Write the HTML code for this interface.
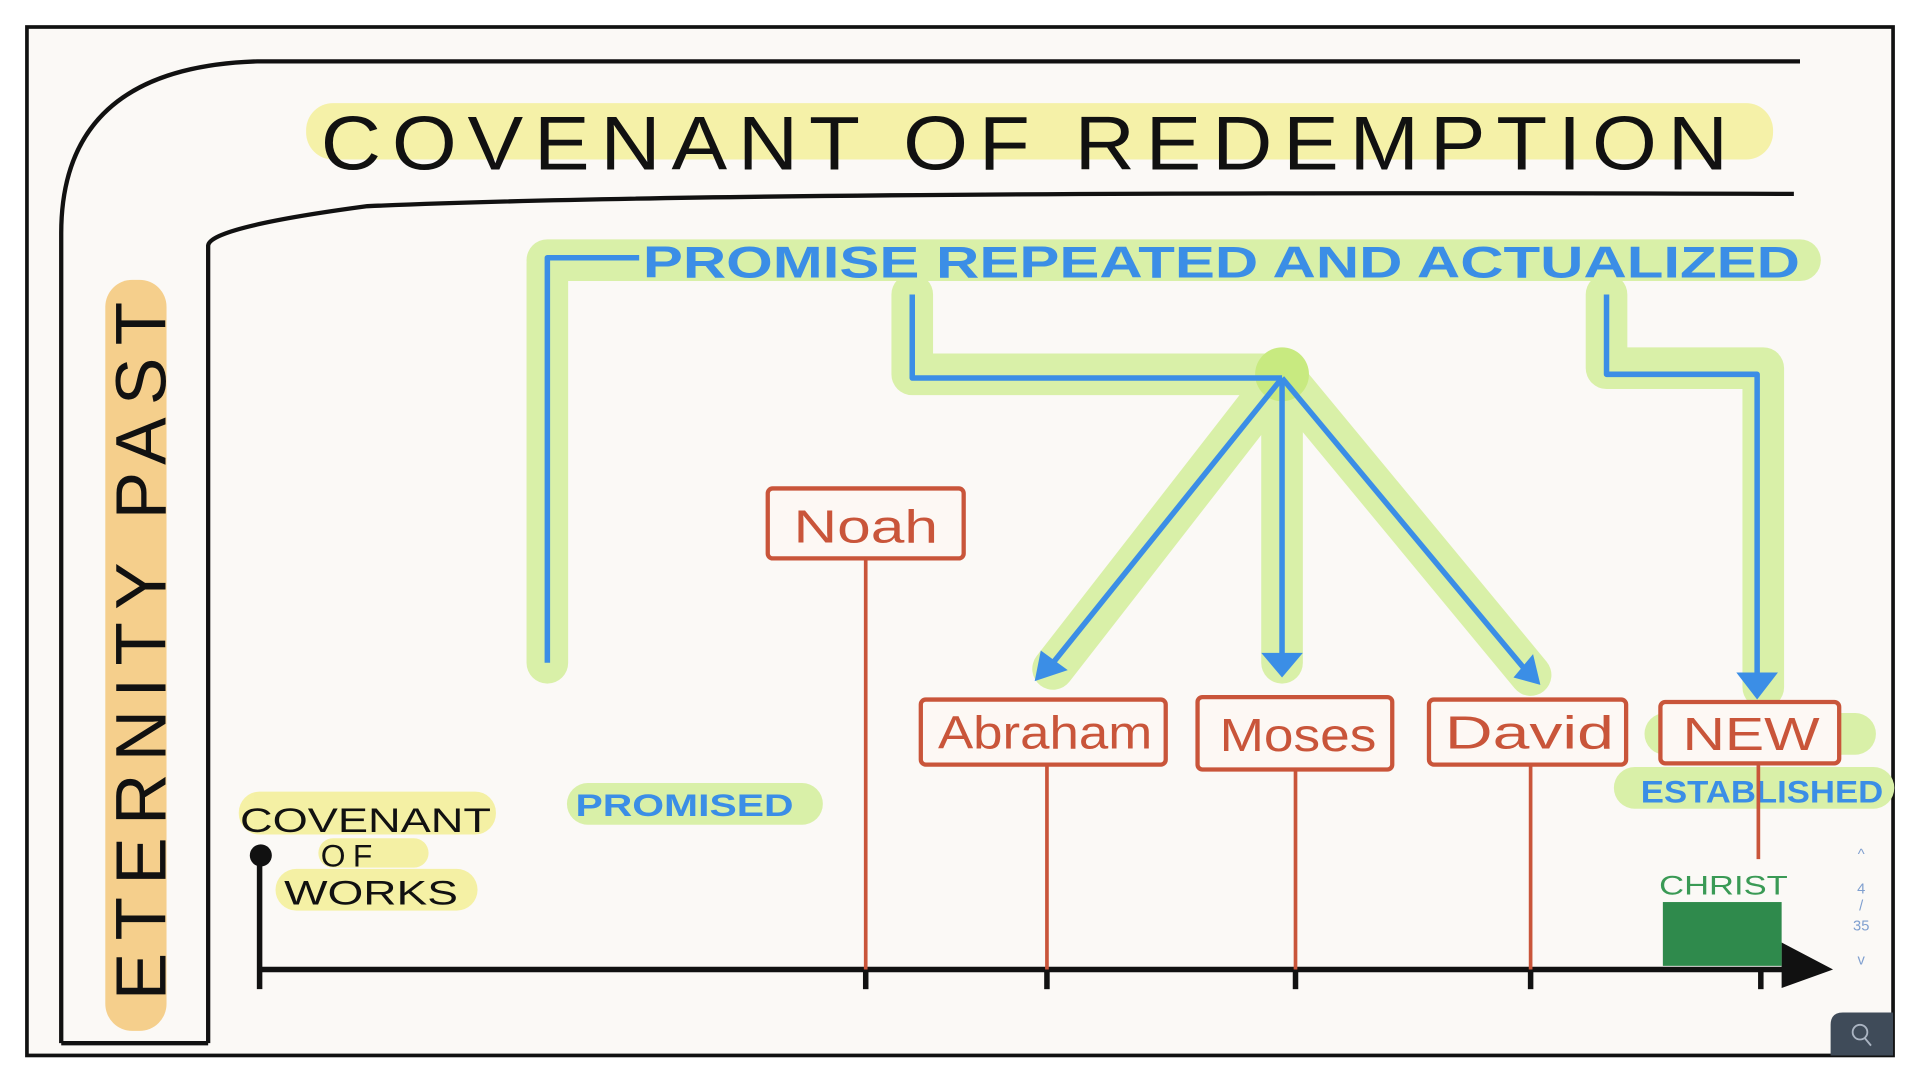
<!DOCTYPE html>
<html><head><meta charset="utf-8"><style>
html,body{margin:0;padding:0;background:#fff;overflow:hidden}
svg{display:block}
text{font-family:"Liberation Sans",sans-serif}
</style></head><body>
<svg width="1920" height="1080" viewBox="0 0 1568 880" preserveAspectRatio="none" xmlns="http://www.w3.org/2000/svg">
<rect x="0" y="0" width="1568" height="880" fill="#fff"/>
<rect x="22" y="22" width="1524" height="838" fill="#fbf9f6" stroke="#111" stroke-width="3"/>
<!-- frame lines -->
<path d="M50 850 L50 190 Q50 55 210 50 L1470 50" fill="none" stroke="#111" stroke-width="3.5"/>
<path d="M170 850 L170 200 Q172 185 300 168 Q600 155 1465 158" fill="none" stroke="#111" stroke-width="3.5"/>
<path d="M50 850 L170 850" stroke="#111" stroke-width="3.5"/>
<!-- eternity past -->
<rect x="86" y="228" width="50" height="612" rx="22" fill="#f3c879" opacity="0.85"/>
<text transform="translate(135,815) rotate(-90)" font-size="58" fill="#111" letter-spacing="10">ETERNITY PAST</text>
<!-- title -->
<rect x="250" y="84" width="1198" height="46" rx="22" fill="#f4f0a0" opacity="0.9"/>
<text x="262" y="138" font-size="62" fill="#111" letter-spacing="8" textLength="1158" lengthAdjust="spacingAndGlyphs">COVENANT OF REDEMPTION</text>
<!-- green highlights -->
<g stroke="#d9f0a8" stroke-linecap="round" stroke-linejoin="round" fill="none" stroke-width="34">
<path d="M447 212 L1470 212"/>
<path d="M447 215 L447 540"/>
<path d="M745 240 L745 305 L1047 305"/>
<path d="M1047 305 L860 545"/>
<path d="M1047 305 L1047 540"/>
<path d="M1047 305 L1250 550"/>
<path d="M1312 240 L1312 300 L1440 300 L1440 560"/>
<path d="M480 655 L655 655"/>
<path d="M1335 642 L1530 642"/>
<path d="M1360 598 L1515 598"/>
</g>
<circle cx="1047" cy="305" r="22" fill="#c8ea80"/>
<g fill="#f4f0a0" opacity="0.95">
<rect x="195" y="645" width="210" height="35" rx="17"/>
<rect x="260" y="683" width="90" height="24" rx="12"/>
<rect x="225" y="708" width="165" height="34" rx="17"/>
</g>
<!-- blue header text -->
<text x="525" y="226" font-size="36" font-weight="bold" fill="#3b8ee6" textLength="945" lengthAdjust="spacingAndGlyphs">PROMISE REPEATED AND ACTUALIZED</text>
<!-- blue lines -->
<g stroke="#3b8ee6" stroke-width="4.5" fill="none" stroke-linejoin="round">
<path d="M522 210 L447 210 L447 540"/>
<path d="M745 240 L745 308 L1047 308"/>
<path d="M1047 308 L860 540"/>
<path d="M1047 308 L1047 535"/>
<path d="M1047 308 L1245 545"/>
<path d="M1312 240 L1312 305 L1435 305 L1435 552"/>
</g>
<g fill="#3b8ee6">
<polygon points="845,555 850,530 872,546"/>
<polygon points="1030,532 1064,532 1047,552"/>
<polygon points="1258,558 1236,552 1252,533"/>
<polygon points="1418,548 1452,548 1435,570"/>
</g>
<!-- blue labels -->
<text x="470" y="665" font-size="26" font-weight="bold" fill="#3b8ee6" textLength="178" lengthAdjust="spacingAndGlyphs">PROMISED</text>
<text x="1340" y="654" font-size="26" font-weight="bold" fill="#3b8ee6" textLength="198" lengthAdjust="spacingAndGlyphs">ESTABLISHED</text>
<!-- covenant of works -->
<text x="196" y="678" font-size="28" fill="#111" textLength="205" lengthAdjust="spacingAndGlyphs">COVENANT</text>
<text x="262" y="706" font-size="26" fill="#111" letter-spacing="6">OF</text>
<text x="232" y="737" font-size="28" fill="#111" textLength="142" lengthAdjust="spacingAndGlyphs">WORKS</text>
<!-- timeline -->
<g stroke="#111" stroke-width="4.5">
<line x1="212" y1="790" x2="1470" y2="790"/>
<line x1="212" y1="697" x2="212" y2="806"/>
<line x1="707" y1="790" x2="707" y2="806"/>
<line x1="855" y1="790" x2="855" y2="806"/>
<line x1="1058" y1="790" x2="1058" y2="806"/>
<line x1="1250" y1="790" x2="1250" y2="806"/>
<line x1="1438" y1="790" x2="1438" y2="806"/>
</g>
<circle cx="213" cy="697" r="9" fill="#111"/>
<polygon points="1455,768 1497,790 1455,805" fill="#111"/>
<!-- christ -->
<rect x="1358" y="735" width="97" height="52" fill="#2f8a4c"/>
<text x="1355" y="729" font-size="22" fill="#3a9a55" textLength="105" lengthAdjust="spacingAndGlyphs">CHRIST</text>
<!-- red lines -->
<g stroke="#c9553a" stroke-width="3">
<line x1="707" y1="455" x2="707" y2="790"/>
<line x1="855" y1="623" x2="855" y2="790"/>
<line x1="1058" y1="627" x2="1058" y2="790"/>
<line x1="1250" y1="623" x2="1250" y2="790"/>
<line x1="1436" y1="622" x2="1436" y2="700"/>
</g>
<!-- red boxes -->
<g fill="#fdf8f4" stroke="#c9553a" stroke-width="3.5">
<rect x="627" y="398" width="160" height="57" rx="4"/>
<rect x="752" y="570" width="200" height="53" rx="4"/>
<rect x="978" y="568" width="159" height="59" rx="4"/>
<rect x="1167" y="570" width="161" height="53" rx="4"/>
<rect x="1356" y="572" width="146" height="50" rx="4"/>
</g>
<g fill="#c9553a" font-size="38">
<text x="648" y="442" textLength="118" lengthAdjust="spacingAndGlyphs">Noah</text>
<text x="766" y="610" textLength="175" lengthAdjust="spacingAndGlyphs">Abraham</text>
<text x="996" y="612" textLength="128" lengthAdjust="spacingAndGlyphs">Moses</text>
<text x="1180" y="610" textLength="138" lengthAdjust="spacingAndGlyphs">David</text>
<text x="1374" y="611" textLength="112" lengthAdjust="spacingAndGlyphs">NEW</text>
</g>
<!-- nav -->
<g fill="#7f9fcf" font-size="12" text-anchor="middle">
<text x="1520" y="700">^</text>
<text x="1520" y="728">4</text>
<text x="1520" y="742">/</text>
<text x="1520" y="758">35</text>
<text x="1520" y="786">v</text>
</g>
<path d="M1495 860 L1495 835 Q1495 825 1505 825 L1546 825 L1546 860 Z" fill="#3f4b59"/>
<circle cx="1519" cy="841" r="6" fill="none" stroke="#aab4c2" stroke-width="1.5"/>
<line x1="1523" y1="846" x2="1528" y2="852" stroke="#aab4c2" stroke-width="1.5"/>
</svg>
</body></html>
